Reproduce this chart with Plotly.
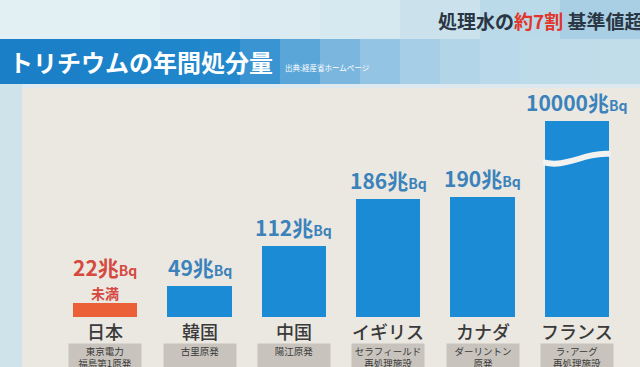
import plotly.graph_objects as go

# ---- data ----
countries = ["日本", "韓国", "中国", "イギリス", "カナダ", "フランス"]
facilities = ["東京電力<br>福島第1原発", "古里原発", "陽江原発", "セラフィールド<br>再処理施設", "ダーリントン<br>原発", "ラ･アーグ<br>再処理施設"]
values = [22, 49, 112, 186, 190, 10000]          # 兆Bq
value_text = ["22", "49", "112", "186", "190", "10000"]
notes = ["未満", "", "", "", "", ""]
highlight = [True, False, False, False, False, False]
display_cap = 310                                  # broken-axis display height for huge values

FONT = "Noto Sans CJK JP"
BLUE = "#1b8bd6"
ORANGE = "#ec6038"
LBL_BLUE = "#3b82bb"
LBL_RED = "#d6493f"
PANEL = "#ebe8e2"

xs = list(range(len(countries)))
shown = [min(v, display_cap) for v in values]
colors = [ORANGE if h else BLUE for h in highlight]

fig = go.Figure(go.Bar(x=xs, y=shown, width=0.68, marker=dict(color=colors, line=dict(width=0)),
                       hoverinfo="skip"))

W, H = 640, 367
L, R, T, B = 58, 16, 90, 50
YMAX = 359
pw, ph = W - L - R, H - T - B
def px(x):
    return (x - L) / pw
def py(y):
    return (H - B - y) / ph

shapes = []
# top background gradient strips
top_cols = ["#e2eff3", "#e3f0f4", "#e0eef3", "#dcebf1", "#d6e8f0", "#cbe2ed", "#bad9e9", "#a9cfe4"]
n = len(top_cols)
for i, c in enumerate(top_cols):
    shapes.append(dict(type="rect", xref="paper", yref="paper", layer="below",
                       x0=px(W * i / n), x1=px(W * (i + 1) / n) + 0.002, y0=py(39), y1=py(0),
                       fillcolor=c, line=dict(width=0)))
# banner gradient
ban_cols = ["#1a7fc6", "#1b80c7", "#1c82c9", "#1d84ca", "#1f86cb", "#2388cc", "#3a94d1",
            "#5aa6d8", "#7ab6de", "#93c4e3", "#a6cee6", "#b3d5e8", "#bad9ea", "#bedbea", "#c0dcea", "#c2ddea"]
n = len(ban_cols)
for i, c in enumerate(ban_cols):
    shapes.append(dict(type="rect", xref="paper", yref="paper", layer="below",
                       x0=px(W * i / n), x1=px(W * (i + 1) / n) + 0.002, y0=py(84), y1=py(39),
                       fillcolor=c, line=dict(width=0)))
# left strip
shapes.append(dict(type="rect", xref="paper", yref="paper", layer="below",
                   x0=px(0), x1=px(22), y0=py(H), y1=py(84), fillcolor="#cfe3ea", line=dict(width=0)))
shapes.append(dict(type="rect", xref="paper", yref="paper", layer="below",
                   x0=px(22), x1=px(W), y0=py(88), y1=py(84), fillcolor="#dde9ee", line=dict(width=0)))
# panel
shapes.append(dict(type="rect", xref="paper", yref="paper", layer="below",
                   x0=px(22), x1=px(W), y0=py(H), y1=py(88), fillcolor=PANEL, line=dict(width=0)))

# wave break on capped bars
def yd(p):
    return (H - B - p) * YMAX / ph
for i, v in enumerate(values):
    if v > display_cap:
        x0, x1 = i - 0.36, i + 0.36
        path = (f"M {x0},{yd(159)} C {i-0.12},{yd(166)} {i+0.08},{yd(149)} {x1},{yd(151)} "
                f"L {x1},{yd(157)} C {i+0.08},{yd(155)} {i-0.12},{yd(172)} {x0},{yd(165)} Z")
        shapes.append(dict(type="path", xref="x", yref="y", path=path,
                           fillcolor="#f2f2f0", line=dict(width=0), layer="above"))

ann = []
for i, (v, t, note, h) in enumerate(zip(values, value_text, notes, highlight)):
    col = LBL_RED if h else LBL_BLUE
    top = shown[i]
    if note:
        ann.append(dict(x=i, y=top, xref="x", yref="y", yanchor="bottom", yshift=-2, showarrow=False,
                        text=note, font=dict(family=FONT, size=14, color=col, weight=700)))
        shift = 19
    else:
        shift = 2
    ann.append(dict(x=i, y=top, xref="x", yref="y", yanchor="bottom", yshift=shift, showarrow=False,
                    text=f"{t}兆<span style='font-size:14px'>Bq</span>",
                    font=dict(family=FONT, size=21, color=col, weight=700)))
for i, (c, f) in enumerate(zip(countries, facilities)):
    ann.append(dict(x=i, y=0, xref="x", yref="y", yanchor="middle", yshift=-14, showarrow=False,
                    text=c, font=dict(family=FONT, size=18, color="#3a3a3a", weight=500)))
    ann.append(dict(x=i, y=0, xref="x", yref="y", yanchor="top", yshift=-26, showarrow=False,
                    text=f, bgcolor="#c8c4bd", width=72, height=30, valign="top", borderpad=0,
                    font=dict(family=FONT, size=9.5, color="#3a3a3a")))

# header texts
ann.append(dict(x=px(7), y=py(62), xref="paper", yref="paper", xanchor="left", yanchor="middle",
                showarrow=False, text="トリチウムの年間処分量",
                font=dict(family=FONT, size=24, color="white", weight=700)))
ann.append(dict(x=px(283), y=py(68), xref="paper", yref="paper", xanchor="left", yanchor="middle",
                showarrow=False, text="出典:経産省ホームページ",
                font=dict(family=FONT, size=7.5, color="white")))
ann.append(dict(x=px(436), y=py(20), xref="paper", yref="paper", xanchor="left", yanchor="middle",
                showarrow=False,
                text="処理水の<span style='color:#e0362c'>約7割</span> 基準値超え",
                font=dict(family=FONT, size=19, color="#2b3644", weight=700)))

fig.update_layout(
    width=W, height=H, margin=dict(l=L, r=R, t=T, b=B),
    paper_bgcolor=PANEL, plot_bgcolor="rgba(0,0,0,0)",
    showlegend=False, bargap=0,
    xaxis=dict(range=[-0.5, 5.5], visible=False, fixedrange=True),
    yaxis=dict(range=[0, YMAX], visible=False, fixedrange=True),
    shapes=shapes, annotations=ann,
    font=dict(family=FONT),
)
fig.write_html("out.html", config={"displayModeBar": False},
               post_script="document.body.style.margin='0';document.body.style.overflow='hidden';")
